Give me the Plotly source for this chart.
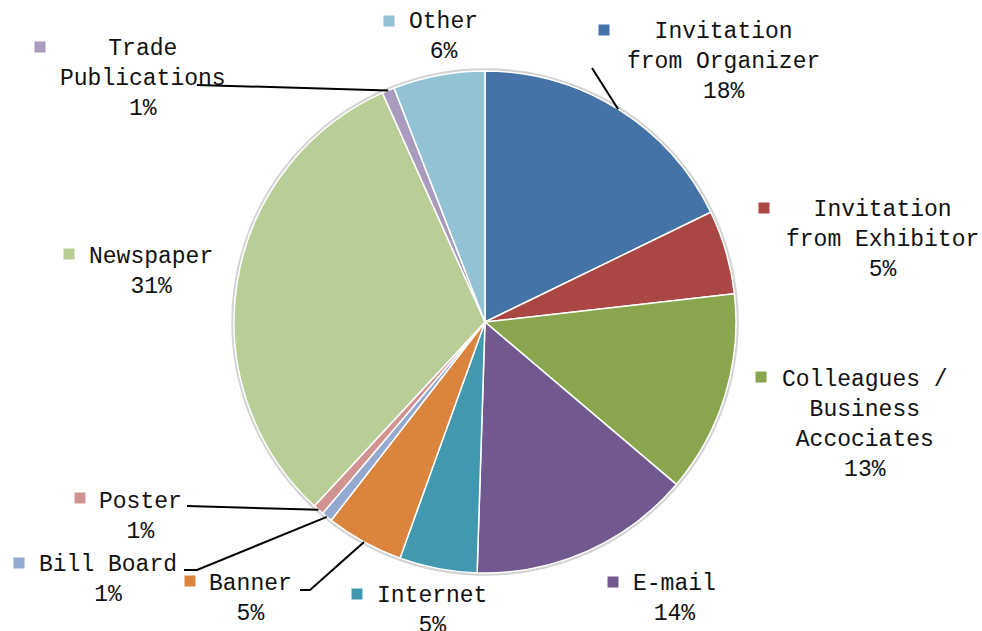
import math
import plotly.graph_objects as go

# ---------------- data ----------------
categories = ["Invitation from Organizer", "Invitation from Exhibitor",
              "Colleagues / Business Accociates", "E-mail", "Internet", "Banner",
              "Bill Board", "Poster", "Newspaper", "Trade Publications", "Other"]
label_text = ["Invitation<br>from Organizer", "Invitation<br>from Exhibitor",
              "Colleagues /<br>Business<br>Accociates", "E-mail", "Internet", "Banner",
              "Bill Board", "Poster", "Newspaper", "Trade<br>Publications", "Other"]
values = [17.8, 5.4, 13.0, 14.3, 5.0, 5.0, 0.7, 0.7, 31.4, 0.8, 5.9]
colors = ["#4572A7", "#AA4643", "#89A54E", "#71588F", "#4198AF", "#DB843D",
          "#93A9CF", "#D19392", "#B9CD96", "#A99BBD", "#92C3D4"]

# ---------------- layout constants (pixels) ----------------
W, H = 982, 631
CX, CY, R = 485, 322, 251
FONT = dict(family="Liberation Mono, DejaVu Sans Mono, monospace", size=23, color="#111111")

# text block centre x, first-line centre y
label_pos = [(723, 30), (882, 208), (865, 378), (674, 582), (432, 594), (250, 582),
             (108, 563), (140, 500), (151, 255), (143, 47), (443, 20)]
# legend-key square centres
key_pos = [(604, 30), (764, 208), (761, 377), (613, 582), (357, 594), (190, 581),
           (19, 563), (80, 498), (69, 254), (40, 47), (389, 21)]
# leader-line points beyond the slice edge
leader_pts = {0: [(592, 68)], 5: [(310, 590), (300, 590)], 6: [(197, 570), (184, 570)],
              7: [(187, 506)], 9: [(197, 85)]}


def px(x):
    return x / W


def py(y):
    return 1 - y / H


fig = go.Figure()
fig.add_trace(go.Pie(
    labels=categories, values=values, sort=False, direction="clockwise", rotation=0,
    marker=dict(colors=colors, line=dict(color="white", width=1.5)),
    textinfo="none", hoverinfo="label+percent", showlegend=False,
    domain=dict(x=[px(CX - R), px(CX + R)], y=[py(CY + R), py(CY - R)]),
))

shapes = []
# faint shadow ring around the pie
shapes.append(dict(type="circle", xref="paper", yref="paper", layer="below",
                   x0=px(CX - R - 1.5), x1=px(CX + R + 1.5),
                   y0=py(CY + R + 1.5), y1=py(CY - R - 1.5),
                   line=dict(color="#d4d4d4", width=2.5), fillcolor="rgba(0,0,0,0)"))

total = sum(values)
annotations = []
cum = 0.0
for i, v in enumerate(values):
    mid = (cum + v / 2) / total
    cum += v
    pct = round(v / total * 100)
    tx, ty = label_pos[i]
    annotations.append(dict(
        x=px(tx), y=py(ty - 13), xref="paper", yref="paper",
        xanchor="center", yanchor="top", align="center", showarrow=False,
        text=f"{label_text[i]}<br>{pct}%", font=FONT))
    kx, ky = key_pos[i]
    shapes.append(dict(type="rect", xref="paper", yref="paper",
                       x0=px(kx - 5.5), x1=px(kx + 5.5), y0=py(ky + 5.5), y1=py(ky - 5.5),
                       fillcolor=colors[i], line=dict(width=0)))
    if i in leader_pts:
        th = 2 * math.pi * mid
        ex, ey = CX + R * math.sin(th), CY - R * math.cos(th)
        pts = [(ex, ey)] + leader_pts[i]
        path = "M " + " L ".join(f"{px(x):.5f},{py(y):.5f}" for x, y in pts)
        shapes.append(dict(type="path", xref="paper", yref="paper", path=path,
                           line=dict(color="black", width=2)))

fig.update_layout(
    width=W, height=H, margin=dict(l=0, r=0, t=0, b=0),
    paper_bgcolor="white", plot_bgcolor="white",
    shapes=shapes, annotations=annotations,
)
fig.write_html("out.html", config={"displayModeBar": False},
               post_script="document.body.style.margin='0';document.body.style.overflow='hidden';")
